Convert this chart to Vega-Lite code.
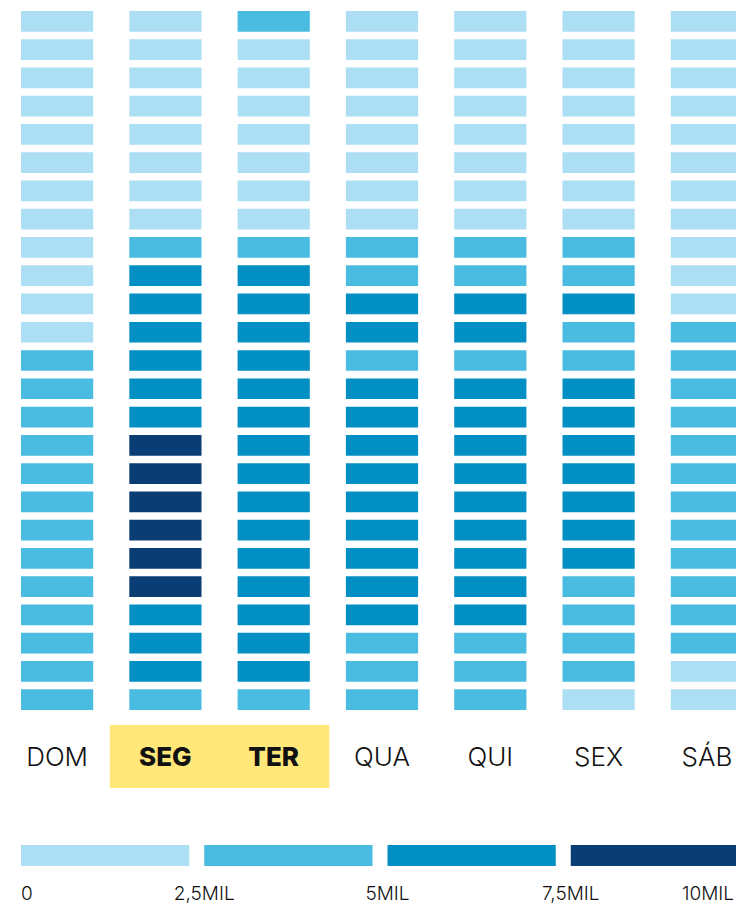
{
  "$schema": "https://vega.github.io/schema/vega-lite/v6.json",
  "padding": 0,
  "background": "white",
  "config": {"view": {"stroke": null}, "font": "Inter"},
  "datasets": {
    "heat": [
      {"dia":"DOM","hora":0,"valor":2100},{"dia":"DOM","hora":1,"valor":1600},{"dia":"DOM","hora":2,"valor":1200},{"dia":"DOM","hora":3,"valor":950},{"dia":"DOM","hora":4,"valor":820},{"dia":"DOM","hora":5,"valor":780},{"dia":"DOM","hora":6,"valor":900},{"dia":"DOM","hora":7,"valor":1150},{"dia":"DOM","hora":8,"valor":1500},{"dia":"DOM","hora":9,"valor":1850},{"dia":"DOM","hora":10,"valor":2150},{"dia":"DOM","hora":11,"valor":2400},{"dia":"DOM","hora":12,"valor":2700},{"dia":"DOM","hora":13,"valor":2950},{"dia":"DOM","hora":14,"valor":3150},{"dia":"DOM","hora":15,"valor":3300},{"dia":"DOM","hora":16,"valor":3400},{"dia":"DOM","hora":17,"valor":3450},{"dia":"DOM","hora":18,"valor":3500},{"dia":"DOM","hora":19,"valor":3420},{"dia":"DOM","hora":20,"valor":3300},{"dia":"DOM","hora":21,"valor":3150},{"dia":"DOM","hora":22,"valor":2950},{"dia":"DOM","hora":23,"valor":2750},{"dia":"DOM","hora":24,"valor":2600},
      {"dia":"SEG","hora":0,"valor":1700},{"dia":"SEG","hora":1,"valor":1150},{"dia":"SEG","hora":2,"valor":880},{"dia":"SEG","hora":3,"valor":790},{"dia":"SEG","hora":4,"valor":850},{"dia":"SEG","hora":5,"valor":1250},{"dia":"SEG","hora":6,"valor":1900},{"dia":"SEG","hora":7,"valor":2350},{"dia":"SEG","hora":8,"valor":3900},{"dia":"SEG","hora":9,"valor":5600},{"dia":"SEG","hora":10,"valor":6300},{"dia":"SEG","hora":11,"valor":6800},{"dia":"SEG","hora":12,"valor":7000},{"dia":"SEG","hora":13,"valor":7100},{"dia":"SEG","hora":14,"valor":7300},{"dia":"SEG","hora":15,"valor":7700},{"dia":"SEG","hora":16,"valor":7900},{"dia":"SEG","hora":17,"valor":8100},{"dia":"SEG","hora":18,"valor":8000},{"dia":"SEG","hora":19,"valor":7800},{"dia":"SEG","hora":20,"valor":7600},{"dia":"SEG","hora":21,"valor":7200},{"dia":"SEG","hora":22,"valor":6500},{"dia":"SEG","hora":23,"valor":5600},{"dia":"SEG","hora":24,"valor":4400},
      {"dia":"TER","hora":0,"valor":2600},{"dia":"TER","hora":1,"valor":1300},{"dia":"TER","hora":2,"valor":950},{"dia":"TER","hora":3,"valor":820},{"dia":"TER","hora":4,"valor":860},{"dia":"TER","hora":5,"valor":1300},{"dia":"TER","hora":6,"valor":1950},{"dia":"TER","hora":7,"valor":2400},{"dia":"TER","hora":8,"valor":3800},{"dia":"TER","hora":9,"valor":5500},{"dia":"TER","hora":10,"valor":6200},{"dia":"TER","hora":11,"valor":6600},{"dia":"TER","hora":12,"valor":6800},{"dia":"TER","hora":13,"valor":6900},{"dia":"TER","hora":14,"valor":7000},{"dia":"TER","hora":15,"valor":7100},{"dia":"TER","hora":16,"valor":7200},{"dia":"TER","hora":17,"valor":7300},{"dia":"TER","hora":18,"valor":7300},{"dia":"TER","hora":19,"valor":7200},{"dia":"TER","hora":20,"valor":7000},{"dia":"TER","hora":21,"valor":6700},{"dia":"TER","hora":22,"valor":6100},{"dia":"TER","hora":23,"valor":5300},{"dia":"TER","hora":24,"valor":4300},
      {"dia":"QUA","hora":0,"valor":2300},{"dia":"QUA","hora":1,"valor":1350},{"dia":"QUA","hora":2,"valor":960},{"dia":"QUA","hora":3,"valor":820},{"dia":"QUA","hora":4,"valor":860},{"dia":"QUA","hora":5,"valor":1290},{"dia":"QUA","hora":6,"valor":1900},{"dia":"QUA","hora":7,"valor":2350},{"dia":"QUA","hora":8,"valor":3600},{"dia":"QUA","hora":9,"valor":4500},{"dia":"QUA","hora":10,"valor":5300},{"dia":"QUA","hora":11,"valor":5600},{"dia":"QUA","hora":12,"valor":4900},{"dia":"QUA","hora":13,"valor":5800},{"dia":"QUA","hora":14,"valor":6100},{"dia":"QUA","hora":15,"valor":6300},{"dia":"QUA","hora":16,"valor":6500},{"dia":"QUA","hora":17,"valor":6600},{"dia":"QUA","hora":18,"valor":6600},{"dia":"QUA","hora":19,"valor":6400},{"dia":"QUA","hora":20,"valor":6100},{"dia":"QUA","hora":21,"valor":5500},{"dia":"QUA","hora":22,"valor":4700},{"dia":"QUA","hora":23,"valor":3900},{"dia":"QUA","hora":24,"valor":3300},
      {"dia":"QUI","hora":0,"valor":2250},{"dia":"QUI","hora":1,"valor":1300},{"dia":"QUI","hora":2,"valor":950},{"dia":"QUI","hora":3,"valor":800},{"dia":"QUI","hora":4,"valor":850},{"dia":"QUI","hora":5,"valor":1270},{"dia":"QUI","hora":6,"valor":1880},{"dia":"QUI","hora":7,"valor":2300},{"dia":"QUI","hora":8,"valor":3500},{"dia":"QUI","hora":9,"valor":4400},{"dia":"QUI","hora":10,"valor":5200},{"dia":"QUI","hora":11,"valor":5500},{"dia":"QUI","hora":12,"valor":4800},{"dia":"QUI","hora":13,"valor":5700},{"dia":"QUI","hora":14,"valor":6000},{"dia":"QUI","hora":15,"valor":6200},{"dia":"QUI","hora":16,"valor":6400},{"dia":"QUI","hora":17,"valor":6500},{"dia":"QUI","hora":18,"valor":6500},{"dia":"QUI","hora":19,"valor":6300},{"dia":"QUI","hora":20,"valor":6000},{"dia":"QUI","hora":21,"valor":5400},{"dia":"QUI","hora":22,"valor":4800},{"dia":"QUI","hora":23,"valor":4000},{"dia":"QUI","hora":24,"valor":3400},
      {"dia":"SEX","hora":0,"valor":2300},{"dia":"SEX","hora":1,"valor":1350},{"dia":"SEX","hora":2,"valor":980},{"dia":"SEX","hora":3,"valor":830},{"dia":"SEX","hora":4,"valor":870},{"dia":"SEX","hora":5,"valor":1300},{"dia":"SEX","hora":6,"valor":1900},{"dia":"SEX","hora":7,"valor":2350},{"dia":"SEX","hora":8,"valor":3400},{"dia":"SEX","hora":9,"valor":4300},{"dia":"SEX","hora":10,"valor":5100},{"dia":"SEX","hora":11,"valor":4900},{"dia":"SEX","hora":12,"valor":4600},{"dia":"SEX","hora":13,"valor":5400},{"dia":"SEX","hora":14,"valor":5700},{"dia":"SEX","hora":15,"valor":5900},{"dia":"SEX","hora":16,"valor":6100},{"dia":"SEX","hora":17,"valor":6200},{"dia":"SEX","hora":18,"valor":6000},{"dia":"SEX","hora":19,"valor":5600},{"dia":"SEX","hora":20,"valor":4900},{"dia":"SEX","hora":21,"valor":4300},{"dia":"SEX","hora":22,"valor":3700},{"dia":"SEX","hora":23,"valor":3000},{"dia":"SEX","hora":24,"valor":2400},
      {"dia":"SÁB","hora":0,"valor":2200},{"dia":"SÁB","hora":1,"valor":1600},{"dia":"SÁB","hora":2,"valor":1200},{"dia":"SÁB","hora":3,"valor":950},{"dia":"SÁB","hora":4,"valor":820},{"dia":"SÁB","hora":5,"valor":880},{"dia":"SÁB","hora":6,"valor":1100},{"dia":"SÁB","hora":7,"valor":1400},{"dia":"SÁB","hora":8,"valor":1800},{"dia":"SÁB","hora":9,"valor":2100},{"dia":"SÁB","hora":10,"valor":2400},{"dia":"SÁB","hora":11,"valor":2800},{"dia":"SÁB","hora":12,"valor":3200},{"dia":"SÁB","hora":13,"valor":3400},{"dia":"SÁB","hora":14,"valor":3500},{"dia":"SÁB","hora":15,"valor":3600},{"dia":"SÁB","hora":16,"valor":3600},{"dia":"SÁB","hora":17,"valor":3500},{"dia":"SÁB","hora":18,"valor":3400},{"dia":"SÁB","hora":19,"valor":3200},{"dia":"SÁB","hora":20,"valor":3000},{"dia":"SÁB","hora":21,"valor":2800},{"dia":"SÁB","hora":22,"valor":2600},{"dia":"SÁB","hora":23,"valor":2300},{"dia":"SÁB","hora":24,"valor":2100}
    ],
    "dias": [{"dia":"DOM"},{"dia":"SEG"},{"dia":"TER"},{"dia":"QUA"},{"dia":"QUI"},{"dia":"SEX"},{"dia":"SÁB"}],
    "legenda": [{"de":0,"ate":2500},{"de":2500,"ate":5000},{"de":5000,"ate":7500},{"de":7500,"ate":10000}],
    "rotulos": [{"valor":0,"texto":"0"},{"valor":2500,"texto":"2,5MIL"},{"valor":5000,"texto":"5MIL"},{"valor":7500,"texto":"7,5MIL"},{"valor":10000,"texto":"10MIL"}]
  },
  "spacing": 57,
  "vconcat": [
    {
      "spacing": 4,
      "vconcat": [
        {
          "width": 736,
          "height": 721,
          "data": {"name": "heat"},
          "mark": {"type": "rect"},
          "encoding": {
            "x": {"field": "dia", "type": "nominal", "sort": ["DOM","SEG","TER","QUA","QUI","SEX","SÁB"], "scale": {"range": [21, 743], "paddingInner": 0.3333, "paddingOuter": 0}, "axis": null},
            "y": {"field": "hora", "type": "ordinal", "scale": {"paddingInner": 0.267, "paddingOuter": 0.389}, "axis": null},
            "color": {"field": "valor", "type": "quantitative", "scale": {"type": "threshold", "domain": [2500, 5000, 7500], "range": ["#ACDFF3", "#4ABCE1", "#028FC3", "#093D74"]}, "legend": null}
          }
        },
        {
          "width": 736,
          "height": 63,
          "data": {"name": "dias"},
          "layer": [
            {
              "transform": [{"filter": {"field": "dia", "oneOf": ["SEG", "TER"]}}],
              "mark": {"type": "rect", "color": "#FFE77A"},
              "encoding": {
                "x": {"field": "dia", "type": "nominal", "bandPosition": -0.27, "sort": ["DOM","SEG","TER","QUA","QUI","SEX","SÁB"], "scale": {"range": [21, 743], "paddingInner": 0.3333, "paddingOuter": 0}, "axis": null},
                "x2": {"field": "dia", "bandPosition": 1.27}
              }
            },
            {
              "transform": [{"filter": {"not": {"field": "dia", "oneOf": ["SEG", "TER"]}}}],
              "mark": {"type": "text", "fontSize": 26, "fontWeight": 300, "baseline": "alphabetic", "dy": 9.5, "color": "#111111"},
              "encoding": {
                "x": {"field": "dia", "type": "nominal", "sort": ["DOM","SEG","TER","QUA","QUI","SEX","SÁB"], "scale": {"range": [21, 743], "paddingInner": 0.3333, "paddingOuter": 0}, "axis": null},
                "text": {"field": "dia"}
              }
            },
            {
              "transform": [{"filter": {"field": "dia", "oneOf": ["SEG", "TER"]}}],
              "mark": {"type": "text", "fontSize": 26, "fontWeight": 800, "baseline": "alphabetic", "dy": 9.5, "color": "#111111"},
              "encoding": {
                "x": {"field": "dia", "type": "nominal", "sort": ["DOM","SEG","TER","QUA","QUI","SEX","SÁB"], "scale": {"range": [21, 743], "paddingInner": 0.3333, "paddingOuter": 0}, "axis": null},
                "text": {"field": "dia"}
              }
            }
          ]
        }
      ]
    },
    {
      "width": 736,
      "height": 21,
      "layer": [
        {
          "data": {"name": "legenda"},
          "mark": {"type": "rect", "x2Offset": -15},
          "encoding": {
            "x": {"field": "de", "type": "quantitative", "scale": {"domain": [0, 10000], "range": [21, 754], "nice": false, "zero": false}, "axis": null},
            "x2": {"field": "ate"},
            "color": {"field": "de", "type": "quantitative", "scale": {"type": "threshold", "domain": [2500, 5000, 7500], "range": ["#ACDFF3", "#4ABCE1", "#028FC3", "#093D74"]}, "legend": null}
          }
        },
        {
          "data": {"name": "rotulos"},
          "transform": [{"filter": "datum.valor == 0"}],
          "mark": {"type": "text", "fontSize": 19, "fontWeight": 300, "align": "left", "baseline": "alphabetic", "dy": 44, "color": "#111111"},
          "encoding": {
            "x": {"field": "valor", "type": "quantitative", "scale": {"domain": [0, 10000], "range": [21, 754], "nice": false, "zero": false}, "axis": null},
            "text": {"field": "texto"}
          }
        },
        {
          "data": {"name": "rotulos"},
          "transform": [{"filter": "datum.valor > 0 && datum.valor < 10000"}],
          "mark": {"type": "text", "fontSize": 19, "fontWeight": 300, "align": "center", "baseline": "alphabetic", "dy": 44, "color": "#111111"},
          "encoding": {
            "x": {"field": "valor", "type": "quantitative", "scale": {"domain": [0, 10000], "range": [21, 754], "nice": false, "zero": false}, "axis": null},
            "text": {"field": "texto"}
          }
        },
        {
          "data": {"name": "rotulos"},
          "transform": [{"filter": "datum.valor == 10000"}],
          "mark": {"type": "text", "fontSize": 19, "fontWeight": 300, "align": "right", "baseline": "alphabetic", "dy": 44, "dx": -20, "color": "#111111"},
          "encoding": {
            "x": {"field": "valor", "type": "quantitative", "scale": {"domain": [0, 10000], "range": [21, 754], "nice": false, "zero": false}, "axis": null},
            "text": {"field": "texto"}
          }
        }
      ]
    }
  ]
}
